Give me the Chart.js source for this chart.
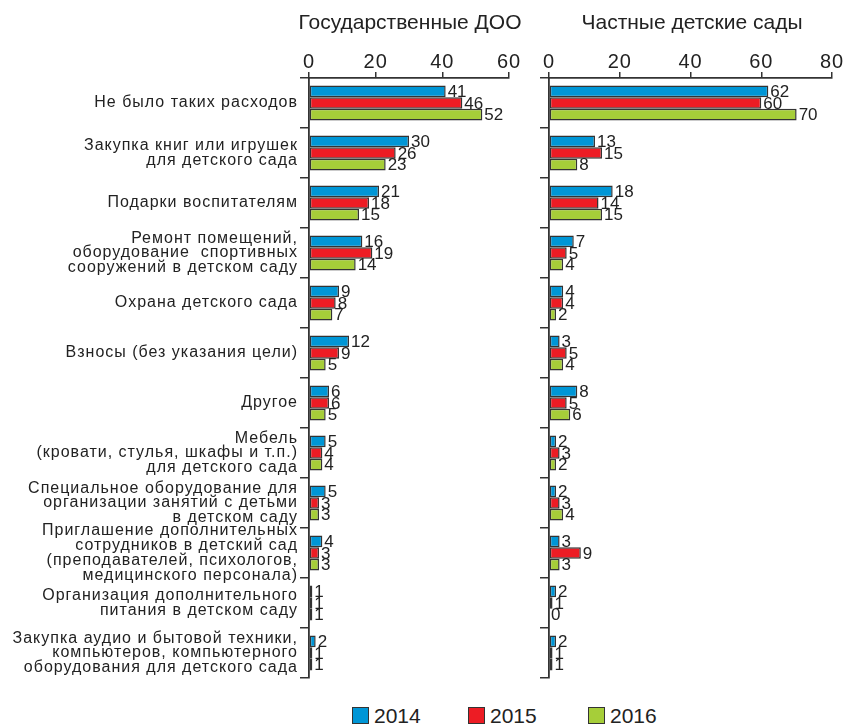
<!DOCTYPE html>
<html>
<head>
<meta charset="utf-8">
<script src="https://cdn.jsdelivr.net/npm/chart.js@4.4.0/dist/chart.umd.min.js"></script>
<style>
  body { margin: 0; background: #fff; font-family: "Liberation Sans", Arial, sans-serif; color: #222; }
  #wrap { position: relative; width: 846px; height: 726px; }
  canvas { position: absolute; top: 0; }
  .title { position: absolute; top: 10px; font-size: 21px; text-align: center; }
  #legend { position: absolute; top: 705px; left: 0; width: 846px; height: 22px; }
  .item { position: absolute; top: 0; font-size: 21px; line-height: 22px; }
  .box { display: inline-block; width: 15px; height: 15px; border: 1.5px solid #333; vertical-align: -1px; margin-right: 5px; }
</style>
</head>
<body>
<div id="wrap">
  <canvas id="govChart" width="530" height="690" style="left:0"></canvas>
  <canvas id="privChart" width="316" height="690" style="left:530px"></canvas>
  <div class="title" style="left:260px;width:300px">Государственные ДОО</div>
  <div class="title" style="left:542px;width:300px">Частные детские сады</div>
  <div id="legend"></div>
</div>
<script>
// Categories (spending types)
let categories = [
  'Не было таких расходов',
  ['Закупка книг или игрушек', 'для детского сада'],
  'Подарки воспитателям',
  ['Ремонт помещений,', 'оборудование  спортивных', 'сооружений в детском саду'],
  'Охрана детского сада',
  'Взносы (без указания цели)',
  'Другое',
  ['Мебель', '(кровати, стулья, шкафы и т.п.)', 'для детского сада'],
  ['Специальное оборудование для', 'организации занятий с детьми', 'в детском саду'],
  ['Приглашение дополнительных', 'сотрудников в детский сад', '(преподавателей, психологов,', 'медицинского персонала)'],
  ['Организация дополнительного', 'питания в детском саду'],
  ['Закупка аудио и бытовой техники,', 'компьютеров, компьютерного', 'оборудования для детского сада']
];

let years = ['2014', '2015', '2016'];
let colors = ['#0096d6', '#ed1c24', '#a6ce39'];

// Государственные ДОО
let gov2014 = [41, 30, 21, 16, 9, 12, 6, 5, 5, 4, 1, 2];
let gov2015 = [46, 26, 18, 19, 8, 9, 6, 4, 3, 3, 1, 1];
let gov2016 = [52, 23, 15, 14, 7, 5, 5, 4, 3, 3, 1, 1];

// Частные детские сады
let priv2014 = [62, 13, 18, 7, 4, 3, 8, 2, 2, 3, 2, 2];
let priv2015 = [60, 15, 14, 5, 4, 5, 5, 3, 3, 9, 1, 1];
let priv2016 = [70, 8, 15, 4, 2, 4, 6, 2, 4, 3, 0, 1];

let axisColor = '#333';
let fontFamily = '"Liberation Sans", Arial, sans-serif';

// the original typeface is wide, so the axis text gets some tracking
let tracking = {
  id: 'tracking',
  beforeDraw(chart) { chart.ctx.letterSpacing = '1px'; },
  afterDraw(chart) { chart.ctx.letterSpacing = '0px'; }
};

// draws the value right after the end of each bar
let valueLabels = {
  id: 'valueLabels',
  afterDatasetsDraw(chart) {
    let ctx = chart.ctx;
    ctx.save();
    ctx.letterSpacing = '0px';
    ctx.font = '17px ' + fontFamily;
    ctx.fillStyle = '#222';
    ctx.textAlign = 'left';
    ctx.textBaseline = 'middle';
    chart.data.datasets.forEach((ds, i) => {
      chart.getDatasetMeta(i).data.forEach((bar, j) => {
        ctx.fillText(ds.data[j], bar.x + 2, bar.y + 1);
      });
    });
    ctx.restore();
  }
};

function makeDatasets(series) {
  return series.map((data, i) => ({
    label: years[i],
    data: data,
    backgroundColor: colors[i],
    borderColor: axisColor,
    borderWidth: 1.5,
    borderSkipped: false,
    barPercentage: 1,
    categoryPercentage: 0.7
  }));
}

function makeChart(id, series, max, yWidth, showLabels, rightPad) {
  return new Chart(document.getElementById(id), {
    type: 'bar',
    data: { labels: categories, datasets: makeDatasets(series) },
    plugins: [tracking, valueLabels],
    options: {
      indexAxis: 'y',
      responsive: false,
      animation: false,
      layout: { padding: { top: 36, bottom: 12, right: rightPad, left: 0 } },
      plugins: { legend: { display: false }, title: { display: false }, tooltip: { enabled: false } },
      scales: {
        x: {
          position: 'top',
          min: 0,
          max: max,
          afterFit(scale) { scale.height = 42; },
          ticks: { stepSize: 20, color: '#222', padding: -2, font: { size: 20, family: fontFamily } },
          grid: { drawOnChartArea: false, tickLength: 6, color: axisColor, lineWidth: 1.5 },
          border: { color: axisColor, width: 1.8 }
        },
        y: {
          afterFit(scale) { scale.width = yWidth; },
          ticks: {
            display: showLabels,
            color: '#222',
            padding: 2,
            autoSkip: false,
            font: { size: 16, lineHeight: 0.93, family: fontFamily }
          },
          grid: { drawOnChartArea: false, offset: true, tickLength: 9, color: axisColor, lineWidth: 1.5 },
          border: { color: axisColor, width: 1.8 }
        }
      }
    }
  });
}

makeChart('govChart', [gov2014, gov2015, gov2016], 60, 309, true, 21);
makeChart('privChart', [priv2014, priv2015, priv2016], 80, 19, false, 14);

// legend below both panels
let legendX = [352, 468, 588];
let legend = document.getElementById('legend');
years.forEach((y, i) => {
  let item = document.createElement('div');
  item.className = 'item';
  item.style.left = legendX[i] + 'px';
  item.innerHTML = '<span class="box" style="background:' + colors[i] + '"></span>' + y;
  legend.appendChild(item);
});
</script>
</body>
</html>
